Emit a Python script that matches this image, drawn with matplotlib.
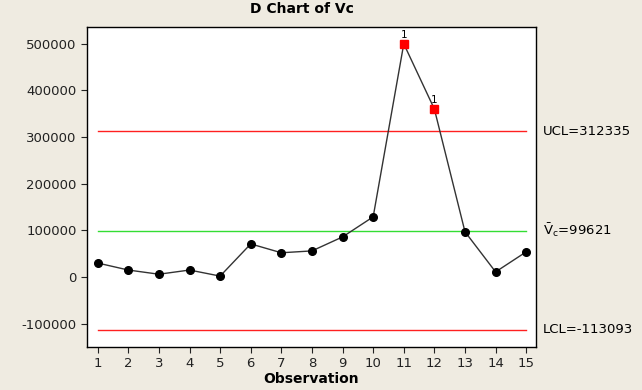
import numpy as np
import matplotlib
matplotlib.use('Agg')
import matplotlib.pyplot as plt

observations = list(range(1, 16))
values = [30000, 15000, 6000, 15000, 2000, 71000, 52000, 56000, 86000, 129000,
          500000, 360000, 97000, 11000, 54000]
ucl = 312335
center = 99621
lcl = -113093
out_of_control = [11, 12]

bg = '#EFEBE1'
fig = plt.figure(figsize=(6.42, 3.90), dpi=100, facecolor=bg)
ax = fig.add_axes([87 / 642, 1 - 347 / 390, (536 - 87) / 642, (347 - 27) / 390])
ax.set_facecolor('white')

# control limits
ax.plot([observations[0], observations[-1]], [ucl, ucl], color='#FF2020', lw=1)
ax.plot([observations[0], observations[-1]], [lcl, lcl], color='#FF2020', lw=1)
ax.plot([observations[0], observations[-1]], [center, center], color='#33DD33', lw=1)

# series
ax.plot(observations, values, color='#333333', lw=1, zorder=3)
normal = [(o, v) for o, v in zip(observations, values) if o not in out_of_control]
ax.plot([p[0] for p in normal], [p[1] for p in normal], 'o', color='black',
        markersize=5.5, zorder=4)
flagged = [(o, v) for o, v in zip(observations, values) if o in out_of_control]
ax.plot([p[0] for p in flagged], [p[1] for p in flagged], 's', color='#FF0000',
        markersize=5.5, zorder=4)
for o, v in flagged:
    ax.text(o, v + 9000, '1', ha='center', va='bottom', fontsize=7.5, color='black')

ax.set_xlim(0.65, 15.32)
ax.set_ylim(-150000, 536000)
ax.set_xticks(observations)
ax.set_yticks([-100000, 0, 100000, 200000, 300000, 400000, 500000])
ax.set_yticklabels(['-100000', '0', '100000', '200000', '300000', '400000', '500000'])
ax.tick_params(labelsize=9.5, colors='#222222', length=4, direction='out')
for s in ax.spines.values():
    s.set_color('black')
    s.set_linewidth(1)

ax.set_xlabel('Observation', fontsize=10, fontweight='bold', labelpad=1)

# limit labels on the right
ax.text(1.015, ucl, 'UCL=312335', transform=ax.get_yaxis_transform(),
        va='center', ha='left', fontsize=9.5)
ax.text(1.015, center, r'$\bar{\mathregular{V}}_{\mathregular{c}}$=99621',
        transform=ax.get_yaxis_transform(), va='center', ha='left', fontsize=9.5)
ax.text(1.015, lcl, 'LCL=-113093', transform=ax.get_yaxis_transform(),
        va='center', ha='left', fontsize=9.5)

# title in the top strip
fig.text(0.47, 0.995, 'D Chart of Vc', ha='center', va='top', fontsize=10,
         fontweight='bold')

fig.savefig('out.png', dpi=100, facecolor=bg)
